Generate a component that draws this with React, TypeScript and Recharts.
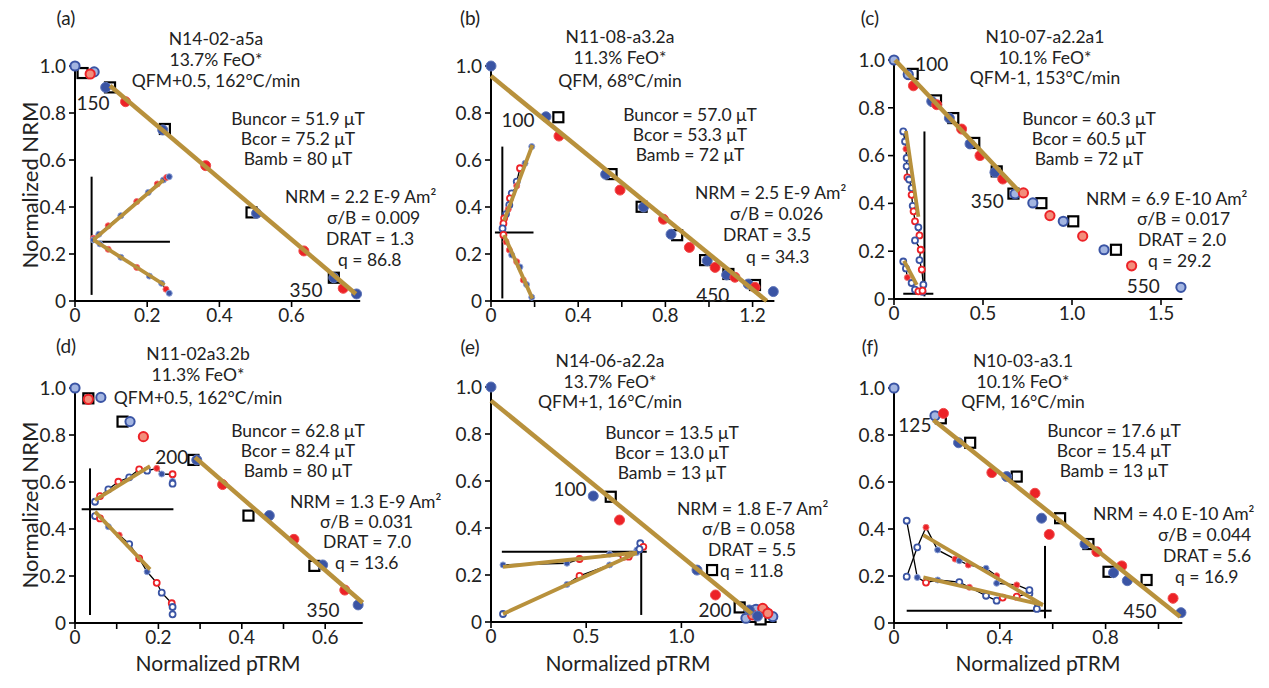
import React from "react";
import { ScatterChart, Scatter, XAxis, YAxis } from "recharts";

type Pt = [number, number];
type KPt = [number, number, string];
type Note = [number, number, string];

// ---------- (a) N14-02-a5a
const aSquares: Pt[] = [[0.021, 0.97], [0.097, 0.909], [0.249, 0.732], [0.489, 0.377], [0.717, 0.099]];
const aBlue: Pt[] = [[0.085, 0.909], [0.243, 0.728], [0.503, 0.373], [0.717, 0.099], [0.78, 0.03]];
const aRed: Pt[] = [[0.14, 0.848], [0.362, 0.576], [0.634, 0.213], [0.743, 0.054]];
const aLightBlue: Pt[] = [[0, 1.0], [0.053, 0.975]];
const aLightRed: Pt[] = [[0.042, 0.966]];
const aFit: Pt[] = [[0.097, 0.916], [0.778, 0.03]];
const aCross: Pt[][] = [[[0.046, 0.529], [0.046, 0.026]], [[0.046, 0.252], [0.263, 0.252]]];
const aInsetUp: KPt[] = [[0.051, 0.267, "r"], [0.066, 0.284, "b"], [0.092, 0.32, "r"], [0.127, 0.363, "b"], [0.171, 0.423, "r"], [0.203, 0.462, "b"], [0.228, 0.498, "r"], [0.245, 0.515, "b"], [0.254, 0.526, "r"], [0.261, 0.529, "b"]];
const aInsetLow: KPt[] = [[0.051, 0.26, "b"], [0.069, 0.243, "b"], [0.092, 0.22, "r"], [0.127, 0.186, "b"], [0.171, 0.143, "r"], [0.206, 0.106, "b"], [0.24, 0.075, "b"], [0.252, 0.05, "r"], [0.261, 0.033, "b"]];
const aInsetFit: Pt[][] = [[[0.051, 0.26], [0.245, 0.515]], [[0.051, 0.26], [0.248, 0.068]]];
const aNotes: Note[] = [[0.05, 0.843, "150"], [0.64, 0.047, "350"]];

// ---------- (b) N11-08-a3.2a
const bSquares: Pt[] = [[0.309, 0.782], [0.553, 0.54], [0.691, 0.401], [0.854, 0.28], [0.982, 0.174], [1.089, 0.115], [1.211, 0.068]];
const bBlue: Pt[] = [[0, 1.0], [0.252, 0.784], [0.526, 0.539], [0.7, 0.4], [0.826, 0.284], [0.992, 0.171], [1.081, 0.111], [1.18, 0.072], [1.295, 0.04]];
const bRed: Pt[] = [[0.312, 0.702], [0.592, 0.472], [0.791, 0.348], [0.91, 0.228], [1.028, 0.143], [1.119, 0.101], [1.211, 0.058]];
const bFit: Pt[] = [[0, 0.957], [1.265, 0]];
const bCross: Pt[][] = [[[0.052, 0.657], [0.052, 0.011]], [[0.018, 0.291], [0.195, 0.291]]];
const bInsetUp: KPt[] = [[0.187, 0.657, "b"], [0.156, 0.586, "b"], [0.133, 0.565, "ro"], [0.118, 0.508, "bo"], [0.118, 0.49, "r"], [0.095, 0.458, "bo"], [0.087, 0.437, "ro"], [0.084, 0.409, "bo"], [0.079, 0.39, "r"], [0.069, 0.37, "bo"], [0.06, 0.352, "ro"], [0.057, 0.33, "ro"], [0.053, 0.309, "bo"]];
const bInsetLow: KPt[] = [[0.057, 0.281, "ro"], [0.069, 0.252, "r"], [0.084, 0.217, "r"], [0.095, 0.196, "b"], [0.118, 0.167, "r"], [0.133, 0.145, "b"], [0.148, 0.089, "r"], [0.163, 0.07, "b"], [0.187, 0.016, "b"]];
const bInsetFit: Pt[][] = [[[0.06, 0.342], [0.19, 0.664]], [[0.06, 0.281], [0.19, 0.01]]];
const bNotes: Note[] = [[0.124, 0.767, "100"], [1.017, 0.026, "450"]];

// ---------- (c) N10-07-a2.2a1
const cSquares: Pt[] = [[0.105, 0.942], [0.236, 0.831], [0.333, 0.757], [0.451, 0.653], [0.577, 0.534], [0.671, 0.441], [0.828, 0.401], [1.007, 0.325], [1.247, 0.206]];
const cBlue: Pt[] = [[0.212, 0.827], [0.311, 0.757], [0.427, 0.649], [0.567, 0.53]];
const cRed: Pt[] = [[0.109, 0.892], [0.24, 0.813], [0.38, 0.711], [0.483, 0.6], [0.611, 0.502]];
const cLightBlue: Pt[] = [[0, 1.0], [0.08, 0.939], [0.68, 0.44], [0.78, 0.402], [0.951, 0.325], [1.18, 0.206], [1.612, 0.049]];
const cLightRed: Pt[] = [[0.727, 0.444], [0.876, 0.349], [1.06, 0.263], [1.335, 0.139]];
const cFit: Pt[] = [[0.006, 1.0], [0.703, 0.45]];
const cCross: Pt[][] = [[[0.171, 0.701], [0.171, 0.011]], [[0.052, 0.022], [0.221, 0.022]]];
const cInsetUp: KPt[] = [[0.052, 0.701, "bo"], [0.062, 0.659, "bo"], [0.067, 0.628, "r"], [0.071, 0.59, "bo"], [0.071, 0.555, "bo"], [0.075, 0.509, "ro"], [0.085, 0.5, "bo"], [0.099, 0.464, "bo"], [0.099, 0.436, "ro"], [0.105, 0.39, "bo"], [0.11, 0.367, "ro"], [0.118, 0.325, "ro"], [0.137, 0.3, "bo"], [0.143, 0.266, "ro"], [0.118, 0.245, "bo"], [0.15, 0.206, "ro"], [0.143, 0.163, "bo"], [0.156, 0.123, "ro"], [0.165, 0.06, "bo"], [0.16, 0.03, "bo"]];
const cInsetLow: KPt[] = [[0.052, 0.157, "bo"], [0.067, 0.128, "bo"], [0.075, 0.09, "r"], [0.099, 0.067, "bo"], [0.118, 0.039, "bo"], [0.137, 0.032, "ro"], [0.16, 0.035, "ro"]];
const cInsetFit: Pt[][] = [[[0.067, 0.703], [0.137, 0.344]], [[0.056, 0.16], [0.128, 0.059]]];
const cNotes: Note[] = [[0.212, 0.98, "100"], [0.524, 0.408, "350"], [1.4, 0.053, "550"]];

// ---------- (d) N11-02a3.2b
const dSquares: Pt[] = [[0.032, 0.956], [0.114, 0.857], [0.284, 0.694], [0.416, 0.457], [0.574, 0.243]];
const dBlue: Pt[] = [[0.292, 0.694], [0.466, 0.457], [0.594, 0.247], [0.679, 0.077]];
const dRed: Pt[] = [[0.354, 0.589], [0.525, 0.356], [0.647, 0.14]];
const dLightBlue: Pt[] = [[0, 1.0], [0.062, 0.96], [0.132, 0.857]];
const dLightRed: Pt[] = [[0.032, 0.952], [0.164, 0.793]];
const dFit: Pt[] = [[0.288, 0.705], [0.69, 0.086]];
const dCross: Pt[][] = [[[0.036, 0.658], [0.036, 0.034]], [[0.016, 0.484], [0.236, 0.484]]];
const dInsetUp: KPt[] = [[0.048, 0.516, "bo"], [0.06, 0.54, "ro"], [0.08, 0.569, "bo"], [0.104, 0.601, "ro"], [0.13, 0.62, "bo"], [0.154, 0.654, "ro"], [0.173, 0.648, "bo"], [0.196, 0.658, "r"], [0.208, 0.634, "b"], [0.234, 0.633, "ro"], [0.234, 0.603, "b"], [0.234, 0.593, "bo"]];
const dInsetLow: KPt[] = [[0.048, 0.455, "bo"], [0.06, 0.445, "ro"], [0.08, 0.41, "b"], [0.106, 0.374, "r"], [0.13, 0.336, "bo"], [0.154, 0.275, "ro"], [0.173, 0.218, "b"], [0.196, 0.171, "ro"], [0.208, 0.129, "bo"], [0.232, 0.084, "ro"], [0.234, 0.068, "bo"], [0.234, 0.037, "bo"]];
const dInsetFit: Pt[][] = [[[0.048, 0.523], [0.18, 0.668]], [[0.048, 0.474], [0.18, 0.228]]];
const dNotes: Note[] = [[0.232, 0.705, "200"], [0.595, 0.055, "350"]];

// ---------- (e) N14-06-a2.2a
const eSquares: Pt[] = [[0.629, 0.533], [1.161, 0.221], [1.306, 0.062], [1.416, 0.011]];
const eBlue: Pt[] = [[0, 1.0], [0.537, 0.536], [1.082, 0.221], [1.357, 0.051], [1.4, 0.025]];
const eRed: Pt[] = [[0.675, 0.434], [1.179, 0.115]];
const eLightBlue: Pt[] = [[1.392, 0.054], [1.48, 0.023], [1.339, 0.016], [1.44, 0.045]];
const eLightRed: Pt[] = [[1.427, 0.058], [1.374, 0.03], [1.454, 0.037]];
const eFit: Pt[] = [[0, 0.942], [1.37, 0.035]];
const eCross: Pt[][] = [[[0.057, 0.299], [0.818, 0.299]], [[0.789, 0.299], [0.789, 0.03]]];
const eInsetUp: KPt[] = [[0.063, 0.243, "b"], [0.399, 0.25, "b"], [0.465, 0.268, "ro"], [0.623, 0.289, "b"], [0.696, 0.278, "ro"], [0.73, 0.285, "r"], [0.766, 0.306, "b"], [0.784, 0.335, "bo"], [0.8, 0.32, "ro"]];
const eInsetLow: KPt[] = [[0.063, 0.034, "bo"], [0.399, 0.16, "b"], [0.465, 0.196, "ro"], [0.623, 0.243, "b"], [0.723, 0.278, "ro"], [0.766, 0.296, "b"], [0.78, 0.31, "bo"]];
const eInsetFit: Pt[][] = [[[0.063, 0.235], [0.766, 0.295]], [[0.063, 0.034], [0.766, 0.295]]];
const eNotes: Note[] = [[0.415, 0.565, "100"], [1.176, 0.051, "200"]];

// ---------- (f) N10-03-a3.1
const fSquares: Pt[] = [[0.177, 0.871], [0.288, 0.767], [0.464, 0.623], [0.628, 0.446], [0.735, 0.336], [0.811, 0.218], [0.955, 0.183]];
const fBlue: Pt[] = [[0.244, 0.767], [0.426, 0.623], [0.558, 0.446], [0.722, 0.336], [0.83, 0.214], [0.882, 0.18], [1.085, 0.044]];
const fRed: Pt[] = [[0.187, 0.892], [0.37, 0.64], [0.533, 0.552], [0.587, 0.377], [0.767, 0.303], [0.861, 0.243], [1.055, 0.105]];
const fLightBlue: Pt[] = [[0, 1.0], [0.155, 0.882]];
const fFit: Pt[] = [[0.149, 0.864], [1.082, 0.027]];
const fCross: Pt[][] = [[[0.048, 0.052], [0.596, 0.052]], [[0.571, 0.328], [0.571, 0.02]]];
const fInsetA: KPt[] = [[0.048, 0.435, "bo"], [0.088, 0.194, "b"], [0.121, 0.172, "ro"], [0.165, 0.183, "b"], [0.247, 0.174, "bo"], [0.285, 0.152, "r"], [0.348, 0.116, "bo"], [0.388, 0.095, "bo"], [0.411, 0.108, "ro"], [0.464, 0.112, "ro"], [0.512, 0.126, "bo"], [0.54, 0.06, "bo"]];
const fInsetB: KPt[] = [[0.048, 0.197, "bo"], [0.088, 0.322, "bo"], [0.121, 0.407, "r"], [0.165, 0.311, "b"], [0.231, 0.272, "r"], [0.247, 0.265, "b"], [0.281, 0.247, "r"], [0.348, 0.233, "b"], [0.388, 0.201, "r"], [0.388, 0.169, "b"], [0.464, 0.162, "r"], [0.512, 0.14, "bo"]];
const fInsetFit: Pt[][] = [[[0.111, 0.374], [0.563, 0.077]], [[0.111, 0.194], [0.563, 0.077]]];
const fNotes: Note[] = [[0.079, 0.843, "125"], [0.93, 0.048, "450"]];

// ---------- text
const titles = [
  ["N14-02-a5a", "13.7% FeO*", "QFM+0.5, 162°C/min"],
  ["N11-08-a3.2a", "11.3% FeO*", "QFM, 68°C/min"],
  ["N10-07-a2.2a1", "10.1% FeO*", "QFM-1, 153°C/min"],
  ["N11-02a3.2b", "11.3% FeO*", "QFM+0.5, 162°C/min"],
  ["N14-06-a2.2a", "13.7% FeO*", "QFM+1, 16°C/min"],
  ["N10-03-a3.1", "10.1% FeO*", "QFM, 16°C/min"],
];
const fields = [
  ["Buncor = 51.9 μT", "Bcor = 75.2 μT", "Bamb = 80 μT"],
  ["Buncor = 57.0 μT", "Bcor = 53.3 μT", "Bamb = 72 μT"],
  ["Buncor = 60.3 μT", "Bcor = 60.5 μT", "Bamb = 72 μT"],
  ["Buncor = 62.8 μT", "Bcor = 82.4 μT", "Bamb = 80 μT"],
  ["Buncor = 13.5 μT", "Bcor = 13.0 μT", "Bamb = 13 μT"],
  ["Buncor = 17.6 μT", "Bcor = 15.4 μT", "Bamb = 13 μT"],
];
const quality = [
  ["NRM = 2.2 E-9 Am²", "σ/B = 0.009", "DRAT = 1.3", "q = 86.8"],
  ["NRM = 2.5 E-9 Am²", "σ/B = 0.026", "DRAT = 3.5", "q = 34.3"],
  ["NRM = 6.9 E-10 Am²", "σ/B = 0.017", "DRAT = 2.0", "q = 29.2"],
  ["NRM = 1.3 E-9 Am²", "σ/B = 0.031", "DRAT = 7.0", "q = 13.6"],
  ["NRM = 1.8 E-7 Am²", "σ/B = 0.058", "DRAT = 5.5", "q = 11.8"],
  ["NRM = 4.0 E-10 Am²", "σ/B = 0.044", "DRAT = 5.6", "q = 16.9"],
];
const panelNames = ["(a)", "(b)", "(c)", "(d)", "(e)", "(f)"];

const BLUE = "#3a54a4";
const RED = "#ec2227";
const LBLUE = "#a3b5e1";
const LRED = "#f38d7b";
const BROWN = "#b8913c";
const FONT = "Lato, 'Open Sans', sans-serif";
const FS = 19;
const TS = 17.5;

const panels = [
  { x0: 75, y0: 301, y1: 66, ppu: 361, xmax: 0.79, ticks: [0, 0.2, 0.4, 0.6], lab: [0, 0.2, 0.4, 0.6],
    sq: aSquares, b: aBlue, r: aRed, lb: aLightBlue, lr: aLightRed, fit: aFit, cross: aCross, inset: [aInsetUp, aInsetLow], ifit: aInsetFit, notes: aNotes,
    lay: { lab: [66, 18], tcx: 216, ty: [39, 60, 81], fcx: 298, fy: [119, 139, 159], qx: [285, 327, 326, 338], qy: [197, 218, 239, 260] } },
  { x0: 491, y0: 301, y1: 66, ppu: 218, xmax: 1.3, ticks: [0, 0.2, 0.4, 0.6, 0.8, 1.0, 1.2], lab: [0, 0.4, 0.8, 1.2],
    sq: bSquares, b: bBlue, r: bRed, lb: [], lr: [], fit: bFit, cross: bCross, inset: [bInsetUp, bInsetLow], ifit: bInsetFit, notes: bNotes,
    lay: { lab: [470, 18], tcx: 620, ty: [37, 58, 81], fcx: 690, fy: [115, 135, 155], qx: [695, 730, 723, 746], qy: [193, 214, 235, 257] } },
  { x0: 894, y0: 299, y1: 60, ppu: 178, xmax: 1.62, ticks: [0, 0.5, 1.0, 1.5], lab: [0, 0.5, 1.0, 1.5],
    sq: cSquares, b: cBlue, r: cRed, lb: cLightBlue, lr: cLightRed, fit: cFit, cross: cCross, inset: [cInsetUp, cInsetLow], ifit: cInsetFit, notes: cNotes,
    lay: { lab: [870, 18], tcx: 1045, ty: [37, 58, 78], fcx: 1089, fy: [119, 139, 159], qx: [1086, 1137, 1138, 1148], qy: [199, 219, 240, 261] } },
  { x0: 75, y0: 623, y1: 388, ppu: 417, xmax: 0.69, ticks: [0, 0.1, 0.2, 0.3, 0.4, 0.5, 0.6], lab: [0, 0.2, 0.4, 0.6],
    sq: dSquares, b: dBlue, r: dRed, lb: dLightBlue, lr: dLightRed, fit: dFit, cross: dCross, inset: [dInsetUp, dInsetLow], ifit: dInsetFit, notes: dNotes,
    lay: { lab: [66, 346], tcx: 198, ty: [354, 375, 398], fcx: 298, fy: [431, 451, 471], qx: [290, 320, 323, 335], qy: [502, 522, 542, 563] } },
  { x0: 491, y0: 622, y1: 387, ppu: 190.4, xmax: 1.5, ticks: [0, 0.5, 1.0], lab: [0, 0.5, 1.0],
    sq: eSquares, b: eBlue, r: eRed, lb: eLightBlue, lr: eLightRed, fit: eFit, cross: eCross, inset: [eInsetUp, eInsetLow], ifit: eInsetFit, notes: eNotes,
    lay: { lab: [470, 347], tcx: 610, ty: [361, 382, 402], fcx: 672, fy: [433, 453, 473], qx: [677, 702, 708, 720], qy: [509, 529, 550, 571] } },
  { x0: 894, y0: 623, y1: 388, ppu: 264.5, xmax: 1.09, ticks: [0, 0.2, 0.4, 0.6, 0.8, 1.0], lab: [0, 0.4, 0.8],
    sq: fSquares, b: fBlue, r: fRed, lb: fLightBlue, lr: [], fit: fFit, cross: fCross, inset: [fInsetA, fInsetB], ifit: fInsetFit, notes: fNotes,
    lay: { lab: [870, 347], tcx: 1023, ty: [361, 382, 402], fcx: 1114, fy: [431, 451, 471], qx: [1093, 1158, 1163, 1175], qy: [514, 535, 556, 577] } },
];

const toRows = (arr: any[], t?: string) => arr.map((p) => ({ x: p[0], y: p[1], t: t ?? p[2] }));

function Mark(props: any) {
  const { cx, cy } = props;
  const t = props.t ?? props.payload?.t;
  if (cx == null || cy == null) return <g />;
  switch (t) {
    case "sq":
      return <rect x={cx - 5} y={cy - 5} width={10} height={10} fill="#fff" stroke="#000" strokeWidth={2.2} />;
    case "B":
      return <circle cx={cx} cy={cy} r={5} fill={BLUE} stroke="#5d74b8" strokeWidth={1} />;
    case "R":
      return <circle cx={cx} cy={cy} r={5} fill={RED} stroke="#f04a4a" strokeWidth={1} />;
    case "LB":
      return <circle cx={cx} cy={cy} r={4.6} fill={LBLUE} stroke={BLUE} strokeWidth={2} />;
    case "LR":
      return <circle cx={cx} cy={cy} r={4.6} fill={LRED} stroke={RED} strokeWidth={2} />;
    case "b":
      return <circle cx={cx} cy={cy} r={3} fill={BLUE} stroke="#8ea2d6" strokeWidth={1} />;
    case "r":
      return <circle cx={cx} cy={cy} r={3} fill={RED} stroke="#f07070" strokeWidth={1} />;
    case "bo":
      return <circle cx={cx} cy={cy} r={3} fill="#fff" stroke={BLUE} strokeWidth={1.8} />;
    case "ro":
      return <circle cx={cx} cy={cy} r={3} fill="#fff" stroke={RED} strokeWidth={1.8} />;
    default:
      return <g />;
  }
}

const NoShape = () => <g />;

function NoteText(props: any) {
  const { cx, cy } = props;
  const label = props.label ?? props.payload?.label;
  if (cx == null || cy == null) return <g />;
  return (
    <text x={cx} y={cy} dy="0.35em" textAnchor="middle" fontFamily={FONT} fontSize={FS} fill="#222">
      {label}
    </text>
  );
}

const fmt = (v: number) => (v === 0 ? "0" : v.toFixed(1));

function Panel({ p }: { p: any }) {
  const ML = 45, MT = 15, MR = 15, XH = 30;
  const plotW = p.ppu * p.xmax;
  const plotH = p.y0 - p.y1;
  const labelled = (v: number) => p.lab.some((l: number) => Math.abs(l - v) < 1e-6);
  const tickStyle = { fill: "#222", fontSize: FS, fontFamily: FONT };
  return (
    <div style={{ position: "absolute", left: p.x0 - ML, top: p.y1 - MT }}>
      <ScatterChart width={ML + plotW + MR} height={MT + plotH + XH} margin={{ top: MT, right: MR, bottom: 0, left: 0 }}>
        <XAxis type="number" dataKey="x" domain={[0, p.xmax]} ticks={p.ticks} interval={0}
          tickFormatter={(v: number) => (labelled(v) ? fmt(v) : "")}
          axisLine={{ stroke: "#000", strokeWidth: 2 }} tickLine={{ stroke: "#000", strokeWidth: 1.6 }}
          tickSize={6} tickMargin={2} tick={tickStyle} height={XH} />
        <YAxis type="number" dataKey="y" domain={[0, 1]} ticks={[0, 0.2, 0.4, 0.6, 0.8, 1.0]} interval={0}
          tickFormatter={fmt} axisLine={{ stroke: "#000", strokeWidth: 2 }} tickLine={{ stroke: "#000", strokeWidth: 1.6 }}
          tickSize={6} tickMargin={3} tick={tickStyle} width={ML} />
        <Scatter data={toRows(p.sq, "sq")} shape={Mark} isAnimationActive={false} />
        <Scatter data={toRows(p.lb, "LB")} shape={Mark} isAnimationActive={false} />
        <Scatter data={toRows(p.lr, "LR")} shape={Mark} isAnimationActive={false} />
        <Scatter data={toRows(p.b, "B")} shape={Mark} isAnimationActive={false} />
        <Scatter data={toRows(p.r, "R")} shape={Mark} isAnimationActive={false} />
        <Scatter data={toRows(p.fit, "")} shape={NoShape} line={{ stroke: BROWN, strokeWidth: 4.5 }} lineType="joint" isAnimationActive={false} />
        {p.cross.map((seg: Pt[], i: number) => (
          <Scatter key={"c" + i} data={toRows(seg, "")} shape={NoShape} line={{ stroke: "#000", strokeWidth: 2 }} lineType="joint" isAnimationActive={false} />
        ))}
        {p.inset.map((arr: KPt[], i: number) => (
          <Scatter key={"i" + i} data={toRows(arr)} shape={Mark} line={{ stroke: "#000", strokeWidth: 1.3 }} lineType="joint" isAnimationActive={false} />
        ))}
        {p.ifit.map((seg: Pt[], i: number) => (
          <Scatter key={"f" + i} data={toRows(seg, "")} shape={NoShape} line={{ stroke: BROWN, strokeWidth: 3.8 }} lineType="joint" isAnimationActive={false} />
        ))}
        <Scatter data={p.notes.map((n: Note) => ({ x: n[0], y: n[1], label: n[2] }))} shape={NoteText} isAnimationActive={false} />
      </ScatterChart>
    </div>
  );
}

export default function App() {
  return (
    <div style={{ position: "absolute", left: 0, top: 0, width: 1269, height: 688, background: "#fff" }}>
      {panels.map((p, i) => (
        <Panel key={i} p={p} />
      ))}
      <svg width={1269} height={688} style={{ position: "absolute", left: 0, top: 0, pointerEvents: "none" }}
        fontFamily={FONT} fill="#222">
        {panels.map((p, i) => (
          <g key={i}>
            <text x={p.lay.lab[0]} y={p.lay.lab[1]} dy="0.35em" textAnchor="middle" fontSize={FS}>{panelNames[i]}</text>
            {titles[i].map((t, j) => (
              <text key={j} x={p.lay.tcx} y={p.lay.ty[j]} dy="0.35em" textAnchor="middle" fontSize={TS}>{t}</text>
            ))}
            {fields[i].map((t, j) => (
              <text key={j} x={p.lay.fcx} y={p.lay.fy[j]} dy="0.35em" textAnchor="middle" fontSize={TS}>{t}</text>
            ))}
            {quality[i].map((t, j) => (
              <text key={j} x={p.lay.qx[j]} y={p.lay.qy[j]} dy="0.35em" textAnchor="start" fontSize={TS}>{t}</text>
            ))}
          </g>
        ))}
        <text transform="translate(30,185) rotate(-90)" dy="0.35em" textAnchor="middle" fontSize={22}>Normalized NRM</text>
        <text transform="translate(30,505) rotate(-90)" dy="0.35em" textAnchor="middle" fontSize={22}>Normalized NRM</text>
        <text x={218} y={664} dy="0.35em" textAnchor="middle" fontSize={21}>Normalized pTRM</text>
        <text x={628} y={664} dy="0.35em" textAnchor="middle" fontSize={21}>Normalized pTRM</text>
        <text x={1038} y={664} dy="0.35em" textAnchor="middle" fontSize={21}>Normalized pTRM</text>
      </svg>
    </div>
  );
}
